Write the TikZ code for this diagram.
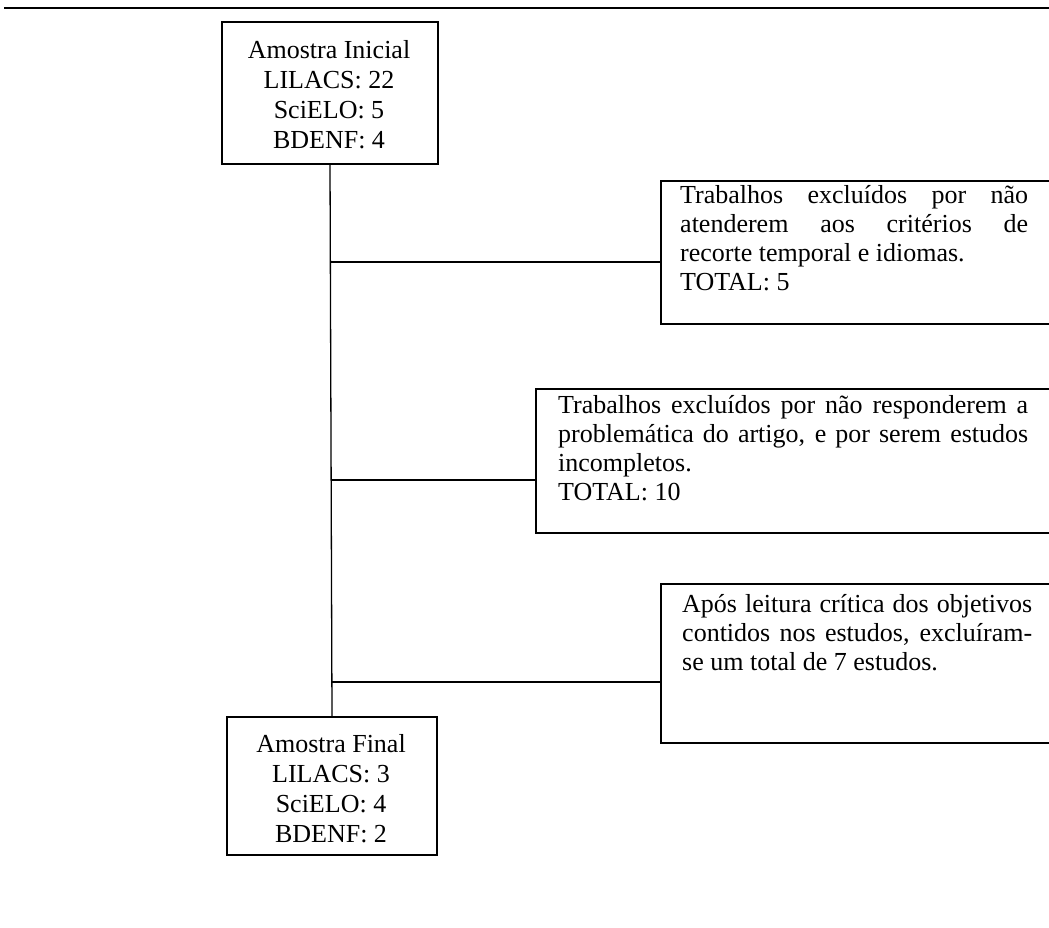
\documentclass[tikz,border=0pt]{standalone}
\usepackage{fontspec}
\setmainfont{Liberation Serif}
\tikzset{
  frame/.style={draw=black, line width=2pt, inner sep=0pt, anchor=north west},
  ltext/.style={font=\fontsize{26}{29}\selectfont, inner sep=0pt, align=left, anchor=north west},
  ctext/.style={font=\fontsize{26}{30}\selectfont, inner sep=0pt, align=center, anchor=north},
  conn/.style={draw=black, line width=1.3pt},
  rule/.style={draw=black, line width=2pt}
}
\begin{document}
\begin{tikzpicture}[x=1pt,y=-1pt]
\useasboundingbox (0,0) rectangle (1049,927);
\clip (0,0) rectangle (1049,927);
\coordinate (r1) at (4,8);
\coordinate (r2) at (1049,8);
\draw[rule] (r1) -- (r2);
% boxes
\node[frame, minimum width=216pt, minimum height=142pt] (ini) at (221,21) {};
\node[frame, minimum width=210pt, minimum height=138pt] (fin) at (226,716) {};
\node[frame, minimum width=450pt, minimum height=143pt] (b2) at (660,180) {};
\node[frame, minimum width=560pt, minimum height=144pt] (b3) at (535,388) {};
\node[frame, minimum width=450pt, minimum height=159pt] (b4) at (660,583) {};
% texts
\node[ctext] (tini) at (329,37) {\strut Amostra Inicial\\\strut LILACS: 22\\\strut SciELO: 5\\\strut BDENF: 4};
\node[ctext] (tfin) at (331,731) {\strut Amostra Final\\\strut LILACS: 3\\\strut SciELO: 4\\\strut BDENF: 2};
\node[ltext] (t2) at (680,182.7) {\strut\makebox[348pt][s]{Trabalhos excluídos por não}\\\strut\makebox[348pt][s]{atenderem aos critérios de}\\\strut recorte temporal e idiomas.\\\strut TOTAL: 5};
\node[ltext] (t3) at (558,392.7) {\strut\makebox[470pt][s]{Trabalhos excluídos por não responderem a}\\\strut\makebox[470pt][s]{problemática do artigo, e por serem estudos}\\\strut incompletos.\\\strut TOTAL: 10};
\node[ltext] (t4) at (682,591.7) {\strut\makebox[350pt][s]{Após leitura crítica dos objetivos}\\\strut\makebox[350pt][s]{contidos nos estudos, excluíram-}\\\strut se um total de 7 estudos.};
% connectors
\draw[conn] (ini.south) -- (fin.north);
\coordinate (j1) at (330,262);
\coordinate (j2) at (330.5,480);
\coordinate (j3) at (331,682);
\draw[conn] (j1) -- (j1 -| b2.west);
\draw[conn] (j2) -- (j2 -| b3.west);
\draw[conn] (j3) -- (j3 -| b4.west);
\end{tikzpicture}
\end{document}
